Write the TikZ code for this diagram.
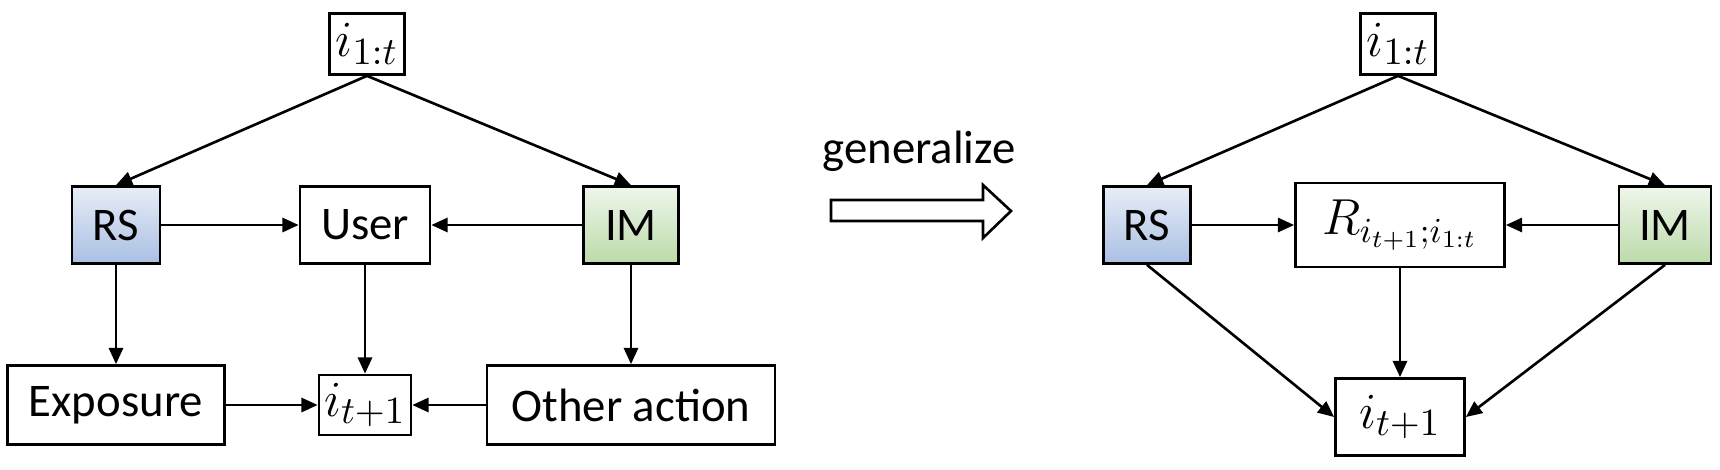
\documentclass[tikz,border=0pt]{standalone}
\usepackage{fontspec}
\setmainfont{Carlito}
\usetikzlibrary{arrows.meta}
\definecolor{rsTop}{HTML}{E8EDF7}
\definecolor{rsBot}{HTML}{A9BFE3}
\definecolor{imTop}{HTML}{EFF6EB}
\definecolor{imBot}{HTML}{BBDBA9}
\begin{document}
\begin{tikzpicture}[x=0.01cm,y=-0.01cm,
  box/.style={draw,line width=0.75pt,inner sep=0pt,minimum height=0.77cm,
    font=\fontsize{13.3}{16}\selectfont},
  mbox/.style={box,font=\fontsize{15.5}{18}\selectfont},
  rsbox/.style={box,top color=rsTop,bottom color=rsBot},
  imbox/.style={box,top color=imTop,bottom color=imBot},
  arr/.style={-{Triangle[length=4.6pt,width=4pt]},line width=0.75pt}]
  \useasboundingbox (0,0) rectangle (1720,469);
  % left: the detailed model
  \node[mbox,minimum width=0.75cm,minimum height=0.61cm] (Lhist) at (367,44) {$i_{1:t}$};
  \node[rsbox,minimum width=0.88cm] (Lrs) at (116,225) {RS};
  \node[box,minimum width=1.30cm] (Luser) at (365,225) {User};
  \node[imbox,minimum width=0.95cm] (Lim) at (631,225) {IM};
  \node[box,minimum width=2.17cm,minimum height=0.79cm] (Lexp) at (116,405) {Exposure};
  \node[mbox,minimum width=0.92cm,minimum height=0.60cm] (Lnext) at (365,405) {$i_{t+1}$};
  \node[box,minimum width=2.88cm,minimum height=0.79cm] (Lother) at (631,405) {Other action};
  \draw[arr] (Lhist.south) -- (Lrs.north);
  \draw[arr] (Lhist.south) -- (Lim.north);
  \draw[arr] (Lrs) -- (Luser);
  \draw[arr] (Lim) -- (Luser);
  \draw[arr] (Lrs) -- (Lexp);
  \draw[arr] (Luser) -- (Lnext);
  \draw[arr] (Lim) -- (Lother);
  \draw[arr] (Lexp) -- (Lnext);
  \draw[arr] (Lother) -- (Lnext);
  % middle
  \node[font=\fontsize{13.3}{16}\selectfont] (gen) at (919,151) {generalize};
  \draw[line width=0.75pt] (831,200) -- (983,200) -- (983,185) -- (1011,211)
    -- (983,238) -- (983,221) -- (831,221) -- cycle;
  % right: the general model
  \node[mbox,minimum width=0.75cm,minimum height=0.61cm] (Rhist) at (1398,44) {$i_{1:t}$};
  \node[rsbox,minimum width=0.87cm] (Rrs) at (1147,225) {RS};
  \node[box,font=\fontsize{14.2}{17}\selectfont,minimum width=2.09cm,minimum height=0.84cm] (Rrel) at (1400,225) {$R_{i_{t+1};i_{1:t}}$};
  \node[imbox,minimum width=0.92cm] (Rim) at (1665,225) {IM};
  \node[mbox,minimum width=1.29cm] (Rnext) at (1400,417) {$i_{t+1}$};
  \draw[arr] (Rhist.south) -- (Rrs.north);
  \draw[arr] (Rhist.south) -- (Rim.north);
  \draw[arr] (Rrs) -- (Rrel);
  \draw[arr] (Rim) -- (Rrel);
  \draw[arr] (Rrs.south) -- (Rnext.west);
  \draw[arr] (Rim.south) -- (Rnext.east);
  \draw[arr] (Rrel) -- (Rnext);
\end{tikzpicture}
\end{document}
